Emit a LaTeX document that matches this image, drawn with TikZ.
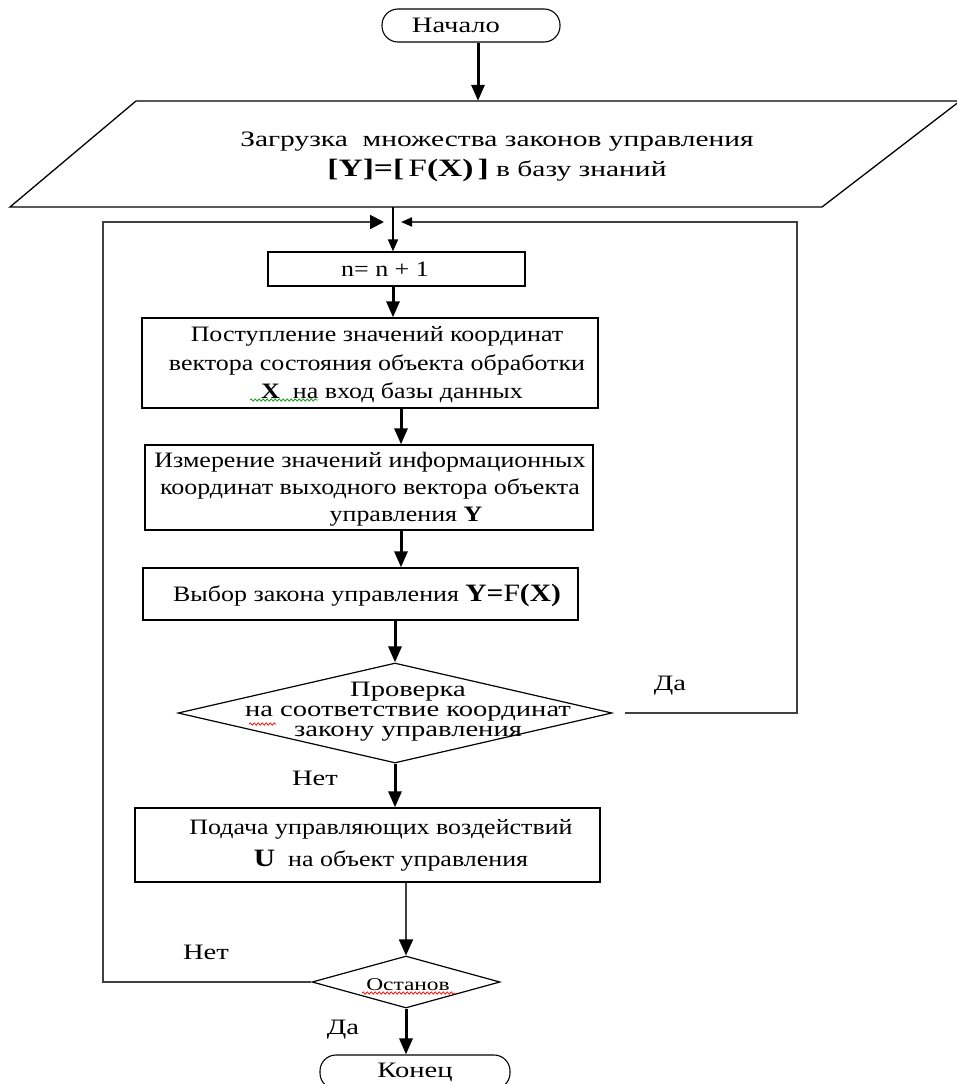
\documentclass[tikz,border=0pt]{standalone}
\usepackage{fontspec}
\setmainfont{Liberation Serif}[FakeStretch=1.18]
\newfontfamily\widefont{Liberation Serif}[FakeStretch=1.3]
\newfontfamily\widerfont{Liberation Serif}[FakeStretch=1.34]
\usetikzlibrary{arrows.meta,shapes.geometric,decorations.pathmorphing}
\tikzset{
  boxnode/.style={draw, line width=1.3pt, inner sep=0pt},
  termnode/.style={draw, line width=1.1pt, rounded corners=16pt, inner sep=0pt, font=\widefont\fontsize{22}{26}\selectfont},
  dnode/.style={draw, diamond, line width=1.2pt, inner sep=0pt},
  txtnode/.style={inner sep=0pt, align=center, font=\fontsize{22}{28.5}\selectfont},
  labnode/.style={inner sep=0pt, font=\widefont\fontsize{22}{26}\selectfont},
  arr/.style={line width=3pt, -{Triangle[length=16pt,width=13pt]}},
  thinarr/.style={line width=2pt, draw=black!75, -{Triangle[length=16pt,width=14pt,color=black]}},
  loopline/.style={line width=2pt, draw=black!75},
  squig/.style={line width=0.7pt, decorate, decoration={snake, amplitude=1.2pt, segment length=4pt}}
}
\begin{document}
\begin{tikzpicture}[x=1pt,y=-1pt]
\useasboundingbox (0,0) rectangle (956,1084);
% start
\node[termnode, minimum width=178pt, minimum height=33pt] (start) at (471,25.5) {\hspace*{-30pt}Начало};
% load parallelogram
\draw[line width=1.3pt] (10,207) -- (136,101) -- (960,101) -- (822,207) -- cycle;
\node[inner sep=0pt, minimum width=700pt, minimum height=106pt] (load) at (484,154) {};
\node[txtnode, font=\widerfont\fontsize{22}{30}\selectfont] (loadtext) at (497,157)
  {Загрузка\ \ множества законов управления\\
   {\fontsize{25}{29}\selectfont\textbf{[Y]=[}\,F\textbf{(X)}\,\textbf{]}} в базу знаний};
\draw[arr] ([xshift=7pt]start.south) -- ([xshift=7pt]start.south |- load.north);
% join coordinates
\coordinate (join) at (393,222);
\coordinate (ljoin) at (384,222);
\coordinate (rjoin) at (401,222);
\coordinate (lft) at (103,222);
\coordinate (rgt) at (797,222);
\coordinate (c2) at (401,0);
% boxes
\node[boxnode, minimum width=257pt, minimum height=34pt] (inc) at (396.5,269) {};
\node[txtnode] (inctext) at (385,269) {n= n + 1};
\node[boxnode, minimum width=456pt, minimum height=90pt] (recv) at (370,363) {};
\node[txtnode] (recvtext) at (377,365)
  {Поступление значений координат\\ вектора состояния объекта обработки\\ \hspace*{30pt}\textbf{X}\ \ на вход базы данных};
\node[boxnode, minimum width=448pt, minimum height=85pt] (meas) at (369,487.5) {};
\node[txtnode, font=\fontsize{22}{27}\selectfont] (meastext) at (370,489)
  {Измерение значений информационных\\ координат выходного вектора объекта\\ \hspace*{72pt}управления \textbf{Y}};
\node[boxnode, minimum width=435pt, minimum height=52pt] (sel) at (360.5,594) {};
\node[txtnode] (seltext) at (367,595)
  {Выбор закона управления {\fontsize{25}{28}\selectfont\textbf{Y=}F\textbf{(X)}}};
\node[dnode, minimum width=434pt, minimum height=100pt] (check) at (395,713) {};
\node[txtnode, font=\widefont\fontsize{22}{20}\selectfont] (checktext) at (408,712)
  {Проверка\\ на соответствие координат\\ закону управления};
\node[boxnode, minimum width=465pt, minimum height=74pt] (apply) at (367.5,845) {};
\node[txtnode, font=\fontsize{22}{32}\selectfont] (applytext) at (381,845)
  {Подача управляющих воздействий\\ \hspace*{20pt}{\fontsize{25}{28}\selectfont\textbf{U}}\ \ на объект управления};
\node[dnode, minimum width=188pt, minimum height=52pt] (stop) at (406,982) {};
\node[labnode, font=\widefont\fontsize{18}{20}\selectfont] (stoptext) at (408,985) {Останов};
\node[termnode, minimum width=190pt, minimum height=34pt] (finish) at (415,1072) {Конец};
% labels
\node[labnode] (da1) at (670,686) {Да};
\node[labnode] (net1) at (315,778) {Нет};
\node[labnode] (net2) at (206,952) {Нет};
\node[labnode] (da2) at (343,1030) {Да};
% connectors
\draw[line width=2pt, -{Triangle[length=12pt,width=10pt]}] (load.south -| join) -- (inc.north -| join);
\draw[arr] (inc.south -| join) -- (recv.north -| join);
\draw[arr] (recv.south -| c2) -- (meas.north -| c2);
\draw[arr] (meas.south -| c2) -- (sel.north -| c2);
\draw[arr] (sel.south -| check.north) -- (check.north);
\draw[arr] (check.south) -- (apply.north -| check.south);
\draw[thinarr] (apply.south -| stop.north) -- (stop.north);
\draw[arr] (stop.south) -- (finish.north -| stop.south);
\draw[loopline, -{Triangle[length=14pt,width=14pt,color=black]}] (stop.west) -| (lft) -- (ljoin);
\draw[loopline, -{Triangle[length=11pt,width=9pt,color=black]}] ([xshift=12pt]check.east) -| (rgt) -- (rjoin);
% spell-check squiggles
\draw[squig, green!60!black] (250,400) -- (318,400);
\draw[squig, red] (249,724) -- (276,724);
\draw[squig, red] (362,993) -- (455,993);
\end{tikzpicture}
\end{document}
